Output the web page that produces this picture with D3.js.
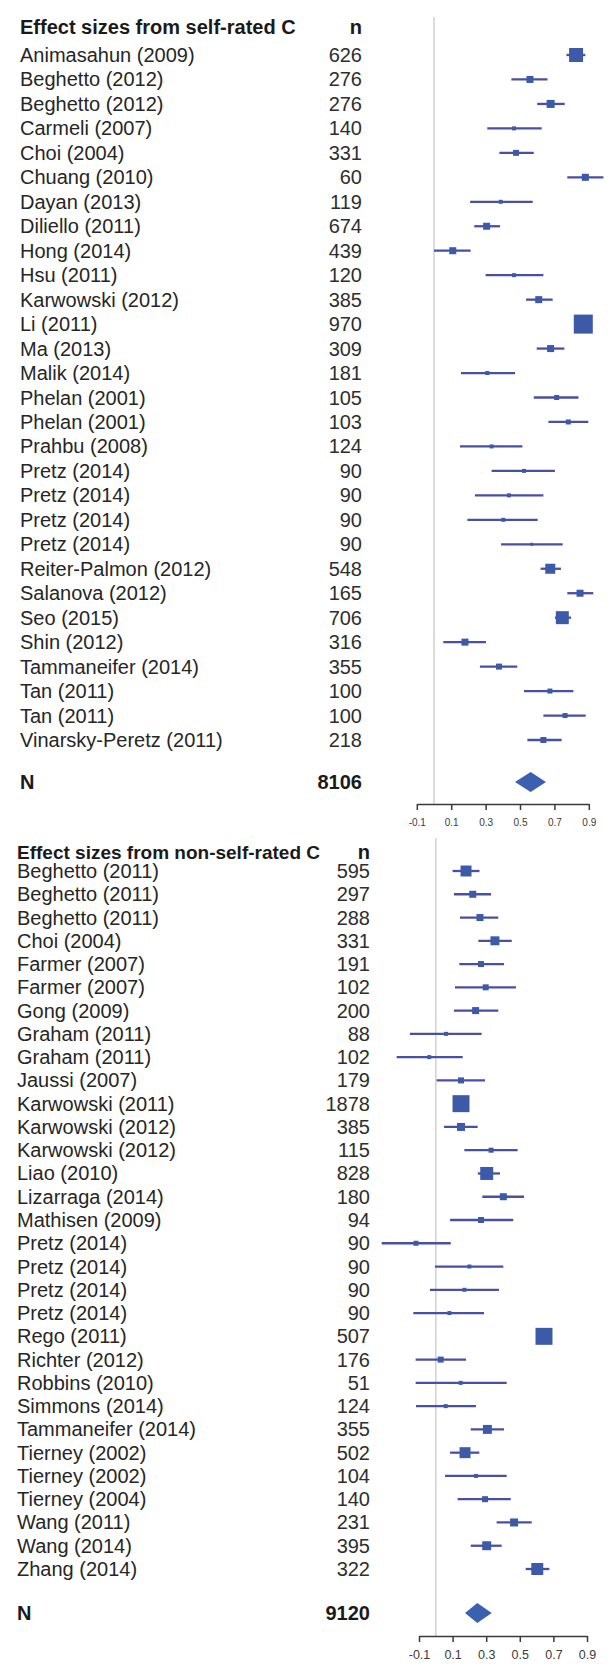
<!DOCTYPE html>
<html>
<head>
<meta charset="utf-8">
<script src="https://cdn.jsdelivr.net/npm/d3@7"></script>
<style>
    body { margin: 0; background: #fff; }
    svg text { font-family: "Liberation Sans", Arial, sans-serif; }
</style>
</head>
<body>
<div id="chart"></div>
<script>
// axis ticks shared by both panels
var tickVals = [-0.1, 0.1, 0.3, 0.5, 0.7, 0.9];

// self-rated creativity
var selfStudies = ["Animasahun (2009)", "Beghetto (2012)", "Beghetto (2012)", "Carmeli (2007)", "Choi (2004)",
    "Chuang (2010)", "Dayan (2013)", "Diliello (2011)", "Hong (2014)", "Hsu (2011)", "Karwowski (2012)",
    "Li (2011)", "Ma (2013)", "Malik (2014)", "Phelan (2001)", "Phelan (2001)", "Prahbu (2008)",
    "Pretz (2014)", "Pretz (2014)", "Pretz (2014)", "Pretz (2014)", "Reiter-Palmon (2012)",
    "Salanova (2012)", "Seo (2015)", "Shin (2012)", "Tammaneifer (2014)", "Tan (2011)", "Tan (2011)",
    "Vinarsky-Peretz (2011)"];
var selfN = [626, 276, 276, 140, 331, 60, 119, 674, 439, 120, 385, 970, 309, 181, 105, 103, 124,
    90, 90, 90, 90, 548, 165, 706, 316, 355, 100, 100, 218];
var selfEst = [0.826, 0.558, 0.678, 0.465, 0.477, 0.88, 0.388, 0.306, 0.109, 0.465, 0.609, 0.868, 0.678,
    0.31, 0.713, 0.781, 0.335, 0.523, 0.436, 0.403, 0.568, 0.676, 0.849, 0.746, 0.18, 0.378, 0.674,
    0.762, 0.636];
var selfLo = [0.77, 0.45, 0.60, 0.31, 0.38, 0.775, 0.21, 0.234, 0.0, 0.30, 0.535, 0.83, 0.597, 0.157,
    0.58, 0.665, 0.151, 0.335, 0.238, 0.194, 0.39, 0.62, 0.775, 0.703, 0.054, 0.267, 0.523, 0.636, 0.543];
var selfHi = [0.88, 0.66, 0.76, 0.626, 0.58, 0.985, 0.574, 0.384, 0.213, 0.636, 0.69, 0.91, 0.758, 0.471,
    0.84, 0.897, 0.514, 0.703, 0.636, 0.603, 0.748, 0.738, 0.926, 0.797, 0.302, 0.484, 0.81, 0.882, 0.742];
var selfWt = [19.5, 4.9, 6.4, 1.6, 3.6, 5.0, 1.6, 4.9, 4.9, 1.6, 4.9, 36, 4.9, 1.6, 2.5, 2.5, 1.6,
    1.6, 1.6, 1.6, 0.9, 10, 4.9, 16.8, 4.9, 3.6, 2.5, 2.5, 3.6];
var selfTotal = 8106;
var selfSummary = [0.471, 0.562, 0.651];

// non-self-rated creativity
var otherStudies = ["Beghetto (2011)", "Beghetto (2011)", "Beghetto (2011)", "Choi (2004)", "Farmer (2007)",
    "Farmer (2007)", "Gong (2009)", "Graham (2011)", "Graham (2011)", "Jaussi (2007)", "Karwowski (2011)",
    "Karwowski (2012)", "Karwowski (2012)", "Liao (2010)", "Lizarraga (2014)", "Mathisen (2009)",
    "Pretz (2014)", "Pretz (2014)", "Pretz (2014)", "Pretz (2014)", "Rego (2011)", "Richter (2012)",
    "Robbins (2010)", "Simmons (2014)", "Tammaneifer (2014)", "Tierney (2002)", "Tierney (2002)",
    "Tierney (2004)", "Wang (2011)", "Wang (2014)", "Zhang (2014)"];
var otherN = [595, 297, 288, 331, 191, 102, 200, 88, 102, 179, 1878, 385, 115, 828, 180, 94,
    90, 90, 90, 90, 507, 176, 51, 124, 355, 502, 104, 140, 231, 395, 322];
var otherEst = [0.18, 0.22, 0.263, 0.352, 0.269, 0.297, 0.237, 0.061, -0.039, 0.15, 0.15, 0.15, 0.329,
    0.303, 0.402, 0.269, -0.118, 0.2, 0.17, 0.081, 0.644, 0.029, 0.148, 0.059, 0.307, 0.174, 0.239,
    0.293, 0.466, 0.303, 0.604];
var otherLo = [0.10, 0.108, 0.144, 0.253, 0.14, 0.114, 0.108, -0.154, -0.233, 0.005, 0.12, 0.049, 0.17,
    0.25, 0.277, 0.085, -0.322, -0.005, -0.035, -0.134, 0.60, -0.12, -0.12, -0.118, 0.208, 0.085, 0.055,
    0.13, 0.362, 0.208, 0.535];
var otherHi = [0.26, 0.329, 0.372, 0.452, 0.406, 0.477, 0.372, 0.273, 0.16, 0.293, 0.19, 0.249, 0.487,
    0.382, 0.525, 0.461, 0.089, 0.402, 0.376, 0.287, 0.69, 0.18, 0.422, 0.239, 0.406, 0.259, 0.422,
    0.446, 0.571, 0.392, 0.676];
var otherWt = [12, 4.9, 4.9, 8, 3.6, 3.6, 4.9, 1.6, 1.6, 3.6, 28.7, 6.4, 2.5, 16.8, 4.9, 3.6,
    2.5, 1.6, 1.6, 1.6, 28.7, 3.6, 1.6, 1.6, 8, 12, 1.6, 3.6, 6.4, 8, 14.3];
var otherTotal = 9120;
var otherSummary = [0.174, 0.247, 0.333];

var width = 612, height = 1669;

var svg = d3.select('#chart')
    .append('svg')
    .attr('width', width)
    .attr('height', height);

svg.append('rect').attr('width', width).attr('height', height).attr('fill', '#fff');

// square side from study weight
var sizeScale = d3.scaleSqrt().domain([0, 36]).range([0, 19]);

function forestPanel(p) {
    var x = d3.scaleLinear().domain([-0.1, 0.9]).range(p.xRange);
    var y = d3.scaleLinear().domain([0, p.studies.length - 1]).range(p.yRange);
    var g = svg.append('g');

    // line of no effect
    g.append('line')
        .attr('x1', x(0)).attr('x2', x(0))
        .attr('y1', p.zeroTop).attr('y2', p.axisY)
        .attr('stroke', '#d4d4d4')
        .attr('stroke-width', 1.6);

    // header
    g.append('text')
        .attr('x', p.textX).attr('y', p.headY).attr('dy', '0.35em')
        .attr('font-size', p.headSize).attr('font-weight', 'bold').attr('fill', '#1a1a1a')
        .text(p.title);
    g.append('text')
        .attr('x', p.nX).attr('y', p.headY).attr('dy', '0.35em')
        .attr('text-anchor', 'end')
        .attr('font-size', 20).attr('font-weight', 'bold').attr('fill', '#1a1a1a')
        .text('n');

    var rows = p.studies.map(function (d, i) {
        return { name: d, n: p.n[i], est: p.est[i], lo: p.lo[i], hi: p.hi[i], wt: p.wt[i], i: i };
    });

    g.selectAll('.study')
        .data(rows)
        .enter().append('text')
        .attr('class', 'study')
        .attr('x', p.textX)
        .attr('y', d => y(d.i))
        .attr('dy', '0.35em')
        .attr('font-size', 20)
        .attr('fill', '#262626')
        .text(d => d.name);

    g.selectAll('.count')
        .data(rows)
        .enter().append('text')
        .attr('class', 'count')
        .attr('x', p.nX)
        .attr('y', d => y(d.i))
        .attr('dy', '0.35em')
        .attr('text-anchor', 'end')
        .attr('font-size', 20)
        .attr('fill', '#2e2e2e')
        .text(d => d.n);

    g.selectAll('.ci')
        .data(rows)
        .enter().append('line')
        .attr('class', 'ci')
        .attr('x1', d => x(d.lo))
        .attr('x2', d => Math.min(x(d.hi), width))
        .attr('y1', d => y(d.i))
        .attr('y2', d => y(d.i))
        .attr('stroke', '#4a4fa6')
        .attr('stroke-width', 2.3);

    g.selectAll('.box')
        .data(rows)
        .enter().append('rect')
        .attr('class', 'box')
        .attr('x', d => x(d.est) - sizeScale(d.wt) / 2)
        .attr('y', d => y(d.i) - sizeScale(d.wt) / 2)
        .attr('width', d => sizeScale(d.wt))
        .attr('height', d => sizeScale(d.wt))
        .attr('fill', '#3d5aa9');

    // pooled estimate
    g.append('text')
        .attr('x', p.textX).attr('y', p.totalY).attr('dy', '0.35em')
        .attr('font-size', 20).attr('font-weight', 'bold').attr('fill', '#1a1a1a')
        .text('N');
    g.append('text')
        .attr('x', p.nX).attr('y', p.totalY).attr('dy', '0.35em')
        .attr('text-anchor', 'end')
        .attr('font-size', 20).attr('font-weight', 'bold').attr('fill', '#1a1a1a')
        .text(p.total);

    var s = p.summary;
    g.append('path')
        .attr('d', 'M' + x(s[0]) + ',' + p.totalY +
            'L' + x(s[1]) + ',' + (p.totalY - 10) +
            'L' + x(s[2]) + ',' + p.totalY +
            'L' + x(s[1]) + ',' + (p.totalY + 10) + 'Z')
        .attr('fill', '#3c60b0');

    var axis = g.append('g')
        .attr('transform', 'translate(0,' + p.axisY + ')')
        .call(d3.axisBottom(x)
            .tickValues(tickVals)
            .tickSize(6)
            .tickSizeOuter(0)
            .tickPadding(p.tickPad)
            .tickFormat(d => d.toFixed(1)));

    axis.select('.domain').attr('stroke', '#3a3a3a').attr('stroke-width', 1.5);
    axis.selectAll('.tick line').attr('stroke', '#3a3a3a').attr('stroke-width', 1.5);
    axis.selectAll('.tick text')
        .attr('font-size', p.tickSize)
        .attr('font-family', '"Liberation Sans", Arial, sans-serif')
        .attr('fill', '#3a3a3a');
}

forestPanel({
    title: 'Effect sizes from self-rated C',
    studies: selfStudies, n: selfN, est: selfEst, lo: selfLo, hi: selfHi, wt: selfWt,
    total: selfTotal, summary: selfSummary,
    xRange: [416.8, 588.8], yRange: [55, 740],
    textX: 20, nX: 362, headY: 27, headSize: 20, totalY: 782,
    zeroTop: 17, axisY: 804, tickPad: 9, tickSize: 10
});

forestPanel({
    title: 'Effect sizes from non-self-rated C',
    studies: otherStudies, n: otherN, est: otherEst, lo: otherLo, hi: otherHi, wt: otherWt,
    total: otherTotal, summary: otherSummary,
    xRange: [419, 587], yRange: [871, 1569],
    textX: 17, nX: 370, headY: 852, headSize: 19, totalY: 1613,
    zeroTop: 838, axisY: 1636, tickPad: 8, tickSize: 12.5
});
</script>
</body>
</html>
